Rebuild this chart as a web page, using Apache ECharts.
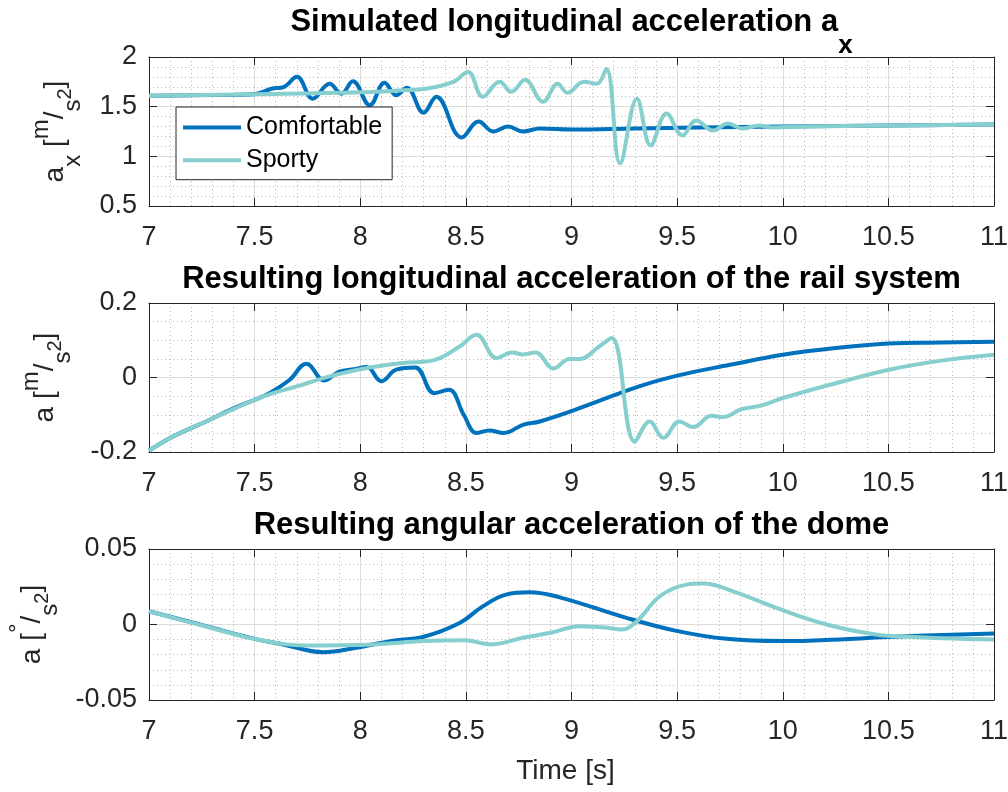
<!DOCTYPE html>
<html>
<head>
<meta charset="utf-8">
<script src="https://cdn.jsdelivr.net/npm/echarts@6/dist/echarts.min.js"></script>
<style>
html,body{margin:0;padding:0;background:#ffffff;}
#chart{width:1008px;height:792px;}
</style>
</head>
<body>
<div id="chart"></div>
<script>
// ---------------- data ----------------
const seriesNames = ['Comfortable', 'Sporty'];
const panelTitles = [
  'Simulated longitudinal acceleration a',
  'Resulting longitudinal acceleration of the rail system',
  'Resulting angular acceleration of the dome'
];
const titleSub = 'x';
const xAxisTitle = 'Time [s]';

const xTicks = [7, 7.5, 8, 8.5, 9, 9.5, 10, 10.5, 11];
const yTicksAx = [0.5, 1, 1.5, 2];
const yTicksRail = [-0.2, 0, 0.2];
const yTicksDome = [-0.05, 0, 0.05];

// Panel 1: simulated longitudinal acceleration a_x [m/s^2]
const tAxComf = [7.0, 7.2, 7.4, 7.5, 7.58, 7.64, 7.70, 7.775, 7.855, 7.91, 7.965, 8.045, 8.115, 8.17, 8.22, 8.30, 8.36, 8.48, 8.56, 8.63, 8.70, 8.77, 8.85, 9.0, 9.3, 9.6, 10.0, 10.5, 11.0];
const vAxComf = [1.61, 1.615, 1.62, 1.625, 1.68, 1.70, 1.80, 1.58, 1.73, 1.63, 1.755, 1.515, 1.74, 1.615, 1.69, 1.44, 1.60, 1.19, 1.35, 1.25, 1.30, 1.25, 1.28, 1.27, 1.28, 1.29, 1.30, 1.31, 1.32];
const tAxSport = [7.0, 7.5, 8.0, 8.2, 8.31, 8.44, 8.51, 8.58, 8.66, 8.715, 8.78, 8.865, 8.935, 8.98, 9.06, 9.12, 9.165, 9.23, 9.31, 9.375, 9.45, 9.525, 9.59, 9.67, 9.74, 9.81, 9.89, 9.95, 10.1, 10.5, 11.0];
const vAxSport = [1.61, 1.625, 1.645, 1.665, 1.68, 1.75, 1.85, 1.60, 1.75, 1.65, 1.77, 1.55, 1.73, 1.64, 1.75, 1.73, 1.88, 0.93, 1.58, 1.11, 1.43, 1.21, 1.36, 1.26, 1.33, 1.28, 1.31, 1.29, 1.30, 1.31, 1.32];

// Panel 2: resulting longitudinal acceleration of the rail system [m/s^2]
const tRailComf = [7.0, 7.115, 7.27, 7.4, 7.5, 7.57, 7.666, 7.745, 7.83, 7.90, 7.97, 8.03, 8.10, 8.17, 8.26, 8.35, 8.42, 8.49, 8.55, 8.61, 8.68, 8.77, 8.85, 9.01, 9.32, 9.5, 9.75, 10.0, 10.25, 10.5, 10.75, 11.0];
const vRailComf = [-0.196, -0.158, -0.118, -0.083, -0.06, -0.042, -0.006, 0.037, -0.008, 0.016, 0.022, 0.028, -0.01, 0.021, 0.027, -0.042, -0.033, -0.10, -0.149, -0.142, -0.149, -0.127, -0.118, -0.088, -0.024, 0.005, 0.034, 0.061, 0.079, 0.091, 0.094, 0.096];
const tRailSport = [7.0, 7.115, 7.27, 7.5, 7.587, 7.70, 7.83, 7.95, 8.06, 8.2, 8.345, 8.47, 8.55, 8.645, 8.72, 8.77, 8.83, 8.915, 8.99, 9.04, 9.13, 9.19, 9.30, 9.37, 9.435, 9.51, 9.576, 9.663, 9.718, 9.805, 9.9, 10.0, 10.286, 10.52, 10.76, 11.0];
const vRailSport = [-0.196, -0.158, -0.118, -0.06, -0.042, -0.024, -0.001, 0.016, 0.028, 0.039, 0.046, 0.083, 0.115, 0.052, 0.067, 0.062, 0.067, 0.024, 0.05, 0.05, 0.083, 0.106, -0.172, -0.118, -0.162, -0.118, -0.133, -0.103, -0.106, -0.085, -0.075, -0.055, -0.01, 0.023, 0.046, 0.061];

// Panel 3: resulting angular acceleration of the dome [deg/s^2]
const tDomeComf = [7.0, 7.27, 7.5, 7.635, 7.824, 7.98, 8.14, 8.30, 8.47, 8.58, 8.69, 8.80, 8.944, 9.26, 9.497, 9.734, 10.0, 10.29, 10.52, 11.0];
const vDomeComf = [0.0088, -0.0011, -0.0095, -0.0132, -0.0183, -0.0154, -0.011, -0.0081, 0.001, 0.012, 0.0198, 0.0213, 0.0180, 0.0044, -0.0042, -0.0095, -0.011, -0.0097, -0.0081, -0.006];
const tDomeSport = [7.0, 7.27, 7.5, 7.745, 8.06, 8.30, 8.495, 8.62, 8.77, 8.90, 9.04, 9.10, 9.16, 9.237, 9.31, 9.418, 9.544, 9.623, 9.765, 9.97, 10.207, 10.44, 10.60, 10.84, 11.0];
const vDomeSport = [0.0088, -0.0013, -0.0095, -0.0139, -0.0132, -0.011, -0.0104, -0.0132, -0.0088, -0.0055, -0.0011, -0.0015, -0.002, -0.0033, 0.0022, 0.0187, 0.0264, 0.0271, 0.022, 0.011, 0.0, -0.0066, -0.0081, -0.0095, -0.0099];

// ---------------- styling ----------------
const FONT = "'Liberation Sans', Arial, Helvetica, sans-serif";
const AXC = '#262626';
const COLORS = ['#0072BD', '#86CFCE'];

const pairs = (t, v) => t.map((x, i) => [x, v[i]]);
const fmt = v => String(parseFloat(Number(v).toFixed(4)));

const panelData = [
  [pairs(tAxComf, vAxComf), pairs(tAxSport, vAxSport)],
  [pairs(tRailComf, vRailComf), pairs(tRailSport, vRailSport)],
  [pairs(tDomeComf, vDomeComf), pairs(tDomeSport, vDomeSport)]
];
const panelYTicks = [yTicksAx, yTicksRail, yTicksDome];
const panelYMinor = [5, 4, 5];
const grids = [
  {left: 149, top: 57, width: 845, height: 149},
  {left: 149, top: 303, width: 845, height: 149},
  {left: 149, top: 549, width: 845, height: 151}
];

const richName = {
  m:  {fontSize: 28, fontFamily: FONT, color: AXC},
  sb: {fontSize: 24, fontFamily: FONT, color: AXC, padding: [36, 0, 0, 0]},
  sp: {fontSize: 24, fontFamily: FONT, color: AXC, padding: [0, 0, 28, 0]},
  s2: {fontSize: 20, fontFamily: FONT, color: AXC, padding: [20, 0, 0, 0]}
};
const yNames = [
  '{m|a}{sb|x}{m| [}{sp|m}{m|/}{sb|s}{s2|2}{m|]}',
  '{m|a [}{sp|m}{m|/}{sb|s}{s2|2}{m|]}',
  '{m|a [}{sp|°}{m|/}{sb|s}{s2|2}{m|]}'
];
const yNameGaps = [64, 74, 87];

const axisLineStyle = {show: true, onZero: false, lineStyle: {color: AXC, width: 1}};
const tickStyle = {show: true, inside: true, length: 8, lineStyle: {color: AXC, width: 1}};
const labelStyle = {fontSize: 27, fontFamily: FONT, color: AXC};
const majorGrid = {show: true, lineStyle: {color: '#dcdcdc', width: 1, type: 'solid'}};
const minorGrid = {show: true, lineStyle: {color: '#b9b9b9', width: 1, type: [1, 3]}};

const xAxes = [], yAxes = [], series = [], titles = [];
grids.forEach((g, p) => {
  const yt = panelYTicks[p];
  const xMain = {
    type: 'value', gridIndex: p, position: 'bottom',
    min: xTicks[0], max: xTicks[xTicks.length - 1], interval: xTicks[1] - xTicks[0],
    axisLine: axisLineStyle, axisTick: tickStyle,
    axisLabel: Object.assign({margin: 18, formatter: fmt, showMinLabel: true, showMaxLabel: true}, labelStyle),
    splitLine: majorGrid,
    minorTick: {show: false, splitNumber: 5},
    minorSplitLine: minorGrid
  };
  if (p === 2) {
    xMain.name = xAxisTitle;
    xMain.nameLocation = 'middle';
    xMain.nameGap = 57;
    xMain.nameTextStyle = {fontSize: 28, fontFamily: FONT, color: AXC, padding: [0, 12, 0, 0]};
  }
  xAxes.push(xMain);
  xAxes.push({
    type: 'value', gridIndex: p, position: 'top',
    min: xTicks[0], max: xTicks[xTicks.length - 1], interval: xTicks[1] - xTicks[0],
    axisLine: axisLineStyle, axisTick: tickStyle,
    axisLabel: {show: false}, splitLine: {show: false}
  });
  yAxes.push({
    type: 'value', gridIndex: p, position: 'left',
    min: yt[0], max: yt[yt.length - 1], interval: yt[1] - yt[0],
    axisLine: axisLineStyle, axisTick: tickStyle,
    axisLabel: Object.assign({margin: 12, formatter: fmt, showMinLabel: true, showMaxLabel: true}, labelStyle),
    splitLine: majorGrid,
    minorTick: {show: false, splitNumber: panelYMinor[p]},
    minorSplitLine: minorGrid,
    name: yNames[p], nameLocation: 'middle', nameRotate: 90, nameGap: yNameGaps[p],
    nameMoveOverlap: false,
    nameTextStyle: {fontSize: 28, fontFamily: FONT, color: AXC, rich: richName}
  });
  yAxes.push({
    type: 'value', gridIndex: p, position: 'right',
    min: yt[0], max: yt[yt.length - 1], interval: yt[1] - yt[0],
    axisLine: axisLineStyle, axisTick: tickStyle,
    axisLabel: {show: false}, splitLine: {show: false}
  });
  seriesNames.forEach((n, k) => {
    series.push({
      type: 'line', name: n, xAxisIndex: 2 * p, yAxisIndex: 2 * p,
      data: panelData[p][k], showSymbol: false, symbol: 'none',
      smooth: 0.4, clip: true, z: 2 + k,
      lineStyle: {width: 4, color: COLORS[k]}, itemStyle: {color: COLORS[k]},
      emphasis: {disabled: true}
    });
  });
});

titles.push({
  text: '{m|' + panelTitles[0] + '}{sb|' + titleSub + '}',
  left: 571.5, top: -13.5, textAlign: 'center', textVerticalAlign: 'top', padding: 0,
  textStyle: {
    fontSize: 31, fontWeight: 'bold', fontFamily: FONT, color: '#000',
    rich: {
      m: {fontSize: 31, fontWeight: 'bold', fontFamily: FONT, color: '#000'},
      sb: {fontSize: 26, fontWeight: 'bold', fontFamily: FONT, color: '#000', padding: [46, 0, 0, 0]}
    }
  }
});
titles.push({
  text: panelTitles[1], left: 571.5, top: 264, textAlign: 'center', textVerticalAlign: 'top', padding: 0,
  textStyle: {fontSize: 31, fontWeight: 'bold', fontFamily: FONT, color: '#000'}
});
titles.push({
  text: panelTitles[2], left: 571.5, top: 510, textAlign: 'center', textVerticalAlign: 'top', padding: 0,
  textStyle: {fontSize: 31, fontWeight: 'bold', fontFamily: FONT, color: '#000'}
});

const chart = echarts.init(document.getElementById('chart'), null, {renderer: 'canvas'});
chart.setOption({
  animation: false,
  backgroundColor: '#ffffff',
  title: titles,
  grid: grids.map(g => Object.assign({containLabel: false, outerBoundsMode: 'none'}, g)),
  xAxis: xAxes,
  yAxis: yAxes,
  legend: {
    data: seriesNames,
    orient: 'vertical', left: 176, top: 107,
    padding: [8, 10, 7, 7], itemGap: 7.7,
    itemWidth: 58, itemHeight: 4, icon: 'rect',
    backgroundColor: '#ffffff', borderColor: AXC, borderWidth: 1, borderRadius: 0,
    textStyle: {fontSize: 25, fontFamily: FONT, color: '#000'},
    selectedMode: false
  },
  series: series
});
</script>
</body>
</html>
